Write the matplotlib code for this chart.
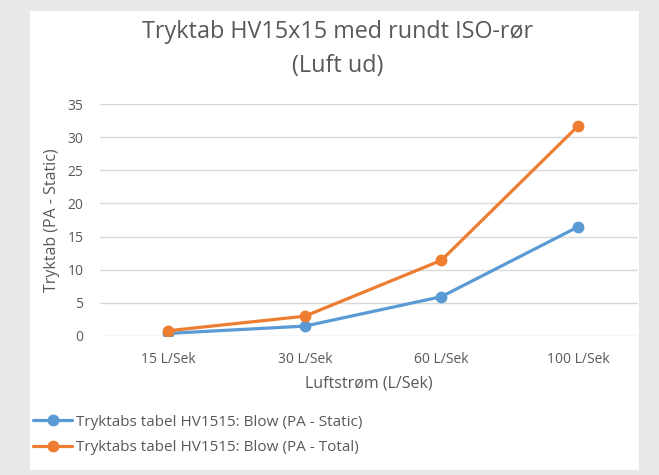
import matplotlib
matplotlib.use("Agg")
import matplotlib.pyplot as plt
from matplotlib.patches import Rectangle

# ---- data ----
categories = ["15 L/Sek", "30 L/Sek", "60 L/Sek", "100 L/Sek"]
static_pa = [0.35, 1.45, 5.9, 16.45]
total_pa = [0.75, 2.95, 11.4, 31.7]
series_names = ["Tryktabs tabel HV1515: Blow (PA - Static)",
                "Tryktabs tabel HV1515: Blow (PA - Total)"]
y_ticks = [0, 5, 10, 15, 20, 25, 30, 35]

BLUE, ORANGE = "#5b9bd5", "#ed7d31"
TXT, GRID, BG = "#595959", "#d9d9d9", "#e8e8e8"

plt.rcParams["font.family"] = ["Open Sans", "DejaVu Sans"]

fig = plt.figure(figsize=(6.59, 4.75), dpi=100, facecolor=BG)
fig.patches.append(Rectangle((30 / 659, 5 / 475), 609 / 659, 459 / 475,
                             transform=fig.transFigure, facecolor="white",
                             edgecolor="none", zorder=-10))

ax = fig.add_axes([100 / 659, 139.3 / 475, 538 / 659, 231.4 / 475])
ax.set_facecolor("none")
x = range(len(categories))
ax.plot(x, static_pa, color=BLUE, lw=2.3, marker="o", ms=7.5, label=series_names[0],
        solid_capstyle="round")
ax.plot(x, total_pa, color=ORANGE, lw=2.3, marker="o", ms=7.5, label=series_names[1],
        solid_capstyle="round")

ax.set_xlim(-0.5, 3.44)
ax.set_ylim(0, 35)
ax.set_yticks(y_ticks)
ax.set_xticks(list(x))
ax.set_xticklabels(categories)
ax.yaxis.grid(True, color=GRID, lw=1)
ax.set_axisbelow(True)
for s in ax.spines.values():
    s.set_visible(False)
ax.tick_params(length=0, colors=TXT, labelsize=10)
ax.tick_params(axis="x", pad=12)
ax.tick_params(axis="y", pad=12)

ax.set_xlabel("Luftstrøm (L/Sek)", color=TXT, fontsize=11.5, labelpad=6)
ax.set_ylabel("Tryktab (PA - Static)", color=TXT, fontsize=11.5, labelpad=5)

fig.text(338 / 659, 1 - 49 / 475, "Tryktab HV15x15 med rundt ISO-rør\n(Luft ud)",
         ha="center", va="center", color=TXT, fontsize=16.8, linespacing=1.5)

fig.legend(loc="upper left", bbox_to_anchor=(19 / 659, 1 - 401 / 475), frameon=False,
           fontsize=11, labelcolor=TXT, handlelength=2.6, handletextpad=0.2,
           labelspacing=0.68)

fig.savefig("out.png", dpi=100, facecolor=BG)
